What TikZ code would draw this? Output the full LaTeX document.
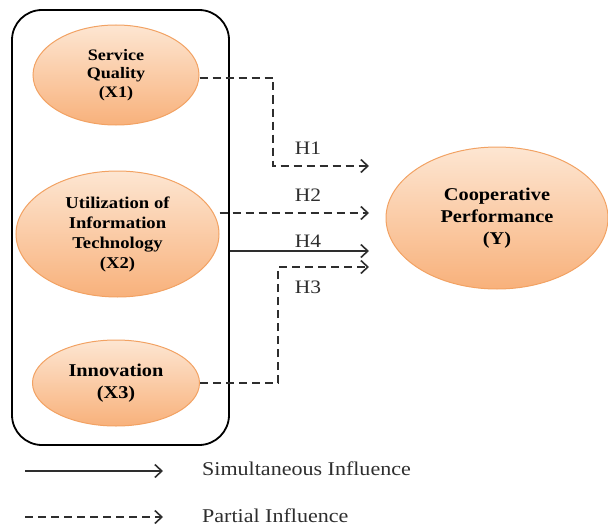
\documentclass[tikz,border=0pt]{standalone}
\usepackage{fontspec}
\setmainfont[FakeStretch=1.13]{Liberation Serif}
\usetikzlibrary{arrows.meta,shapes.geometric}
\definecolor{ellborder}{HTML}{F2A263}
\definecolor{elltop}{HTML}{FDE6D2}
\definecolor{ellbot}{HTML}{F8B17B}
\definecolor{lineclr}{HTML}{2E2E2E}
\tikzset{
  var/.style={ellipse, draw=ellborder, line width=1pt, top color=elltop, bottom color=ellbot,
    inner sep=0pt, align=center, font=\bfseries},
  hyp/.style={line width=1.6pt, draw=lineclr, -{Straight Barb[length=7pt,width=13pt,line width=1.6pt]}},
  partial/.style={hyp, dash pattern=on 8pt off 5pt},
  hlabel/.style={font=\fontsize{19}{22}\selectfont, text=lineclr, inner sep=0pt},
  legtext/.style={font=\fontsize{19.5}{22}\selectfont, text=lineclr, anchor=west, inner sep=0pt}
}
\begin{document}
\begin{tikzpicture}[x=1pt,y=-1pt]
\useasboundingbox (0,0) rectangle (608,527);
% group box
\node[draw=black, line width=1.8pt, rounded corners=30pt, minimum width=217pt, minimum height=435pt, inner sep=0pt] (box) at (120.5,227.5) {};
% variables
\node[var, minimum width=166pt, minimum height=100pt, font=\bfseries\fontsize{16}{18.3}\selectfont] (x1) at (116,75) {Service\\Quality\\(X1)};
\node[var, minimum width=203pt, minimum height=126pt, font=\bfseries\fontsize{16.5}{20}\selectfont] (x2) at (117.5,234) {Utilization of\\Information\\Technology\\(X2)};
\node[var, minimum width=167pt, minimum height=86pt, font=\bfseries\fontsize{18}{21.7}\selectfont] (x3) at (116,383) {Innovation\\(X3)};
\node[var, minimum width=222pt, minimum height=142pt, font=\bfseries\fontsize{18}{21.7}\selectfont] (y) at (497,218) {Cooperative\\Performance\\(Y)};
% connector ends and bends
\coordinate (e1) at (369,166);
\coordinate (e2) at (369,213);
\coordinate (e4) at (369,251);
\coordinate (e3) at (369,267);
\coordinate (b1) at (273,78);
\coordinate (b3) at (278,383);
% connectors
\draw[partial] (x1.east |- b1) -- (b1) |- (e1);
\draw[partial] (x2.east |- e2) -- (e2);
\draw[hyp] (box.east |- e4) -- (e4);
\draw[partial] (x3.east) -- (b3) |- (e3);
% hypothesis labels
\node[hlabel] (h1) at (308,148) {H1};
\node[hlabel] (h2) at (308,195) {H2};
\node[hlabel] (h4) at (308,241) {H4};
\node[hlabel] (h3) at (308,287) {H3};
% legend
\coordinate (la) at (25,471);
\coordinate (lb) at (163,471);
\coordinate (lc) at (25,517);
\coordinate (ld) at (163,517);
\draw[hyp] (la) -- (lb);
\draw[partial] (lc) -- (ld);
\node[legtext] (t1) at (202,469) {Simultaneous Influence};
\node[legtext] (t2) at (202,516) {Partial Influence};
\end{tikzpicture}
\end{document}
